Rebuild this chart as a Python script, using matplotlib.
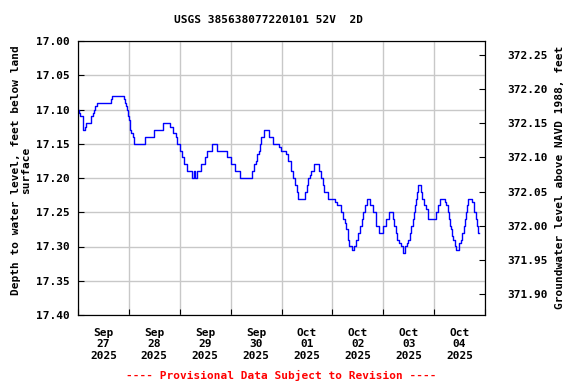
import numpy as np
import pandas as pd
from matplotlib import pyplot as plt
import matplotlib.dates as mdates

# hours since 2025-09-27 00:00 and depth below land surface (ft)
hours = [0.0, 0.6, 1.1, 2.2, 2.5, 3.4, 3.8, 6.0, 6.9, 7.4, 8.0, 8.8, 15.4, 15.9,
         21.5, 22.0, 22.5, 22.9, 23.5, 23.9, 24.3, 25.1, 26.0, 26.5, 31.7, 35.8,
         39.9, 43.6, 44.6, 46.0, 46.5, 48.0, 49.1, 50.2, 51.4, 54.0, 54.5, 55.4,
         56.3, 57.9, 59.8, 60.7, 63.2, 65.7, 70.3, 72.3, 73.9, 76.6, 82.0, 82.8,
         83.8, 84.4, 85.3, 85.8, 86.5, 87.7, 89.9, 92.1, 94.7, 95.9, 98.2, 99.0,
         100.6, 101.3, 102.5, 103.2, 103.7, 107.3, 108.1, 108.7, 109.5, 110.0,
         111.1, 113.9, 114.7, 115.4, 116.2, 117.8, 121.3, 122.0, 124.1, 125.2,
         126.0, 126.5, 127.2, 127.7, 129.1, 130.4, 131.2, 132.2, 133.2, 134.0,
         134.6, 135.4, 136.1, 137.9, 139.0, 140.6, 142.1, 144.1, 145.3, 146.8,
         148.4, 149.2, 150.0, 150.7, 151.5, 152.6, 153.1, 154.2, 155.0, 155.8,
         156.7, 157.3, 157.8, 158.3, 158.9, 159.4, 159.9, 160.6, 161.7, 162.5,
         163.3, 164.1, 164.9, 165.3, 168.8, 169.6, 170.7, 173.2, 173.8, 174.6,
         175.1, 175.5, 176.1, 176.6, 177.1, 177.7, 178.2, 179.8, 180.6, 181.3,
         182.1, 182.6, 183.2, 183.7, 184.1, 186.0, 186.8, 187.6, 188.1, 188.7,
         189.2]
depth = [17.10, 17.105, 17.11, 17.12, 17.13, 17.125, 17.12, 17.11, 17.105, 17.10,
         17.095, 17.09, 17.085, 17.08, 17.085, 17.09, 17.095, 17.10, 17.11, 17.115,
         17.13, 17.135, 17.14, 17.15, 17.14, 17.13, 17.12, 17.125, 17.135, 17.14,
         17.15, 17.16, 17.17, 17.18, 17.19, 17.20, 17.19, 17.20, 17.19, 17.18,
         17.17, 17.16, 17.15, 17.16, 17.17, 17.18, 17.19, 17.20, 17.19, 17.18,
         17.175, 17.165, 17.16, 17.15, 17.14, 17.13, 17.14, 17.15, 17.155, 17.16,
         17.165, 17.175, 17.19, 17.20, 17.21, 17.22, 17.23, 17.22, 17.21, 17.20,
         17.195, 17.19, 17.18, 17.19, 17.20, 17.21, 17.22, 17.23, 17.235, 17.24,
         17.25, 17.26, 17.265, 17.275, 17.29, 17.30, 17.305, 17.30, 17.29, 17.28,
         17.27, 17.26, 17.25, 17.24, 17.23, 17.24, 17.25, 17.27, 17.28, 17.27,
         17.26, 17.25, 17.26, 17.27, 17.28, 17.29, 17.295, 17.30, 17.31, 17.30,
         17.295, 17.29, 17.28, 17.27, 17.26, 17.25, 17.24, 17.23, 17.22, 17.21,
         17.22, 17.23, 17.24, 17.245, 17.25, 17.26, 17.25, 17.24, 17.23, 17.235,
         17.24, 17.25, 17.26, 17.27, 17.275, 17.285, 17.29, 17.30, 17.305, 17.295,
         17.29, 17.28, 17.27, 17.26, 17.25, 17.24, 17.23, 17.235, 17.25, 17.26,
         17.27, 17.28, 17.28]

datum = 389.27  # land surface elevation, NAVD 1988
start = pd.Timestamp("2025-09-27")
times = start + pd.to_timedelta(hours, unit="h")

plt.rcParams['font.family'] = 'DejaVu Sans Mono'
plt.rcParams['font.weight'] = 'bold'
plt.rcParams['font.size'] = 8

fig = plt.figure(figsize=(5.76, 3.84), dpi=100)
ax = fig.add_axes([78/576, 1-315/384, (485-78)/576, (315-41)/384])

ax.step(times, depth, where='post', color='#0000ff', linewidth=1.0)

ax.set_xlim(start, start + pd.Timedelta(days=8))
ax.set_ylim(17.40, 17.00)
ax.set_yticks(np.arange(17.00, 17.401, 0.05))
ax.yaxis.set_major_formatter(plt.FormatStrFormatter('%.2f'))

ax.xaxis.set_major_locator(mdates.DayLocator())
ax.xaxis.set_major_formatter(plt.NullFormatter())
ax.xaxis.set_minor_locator(mdates.HourLocator(byhour=12))
ax.xaxis.set_minor_formatter(mdates.DateFormatter('%b\n%d\n%Y'))
ax.tick_params(axis='x', which='minor', length=0, pad=9)
ax.tick_params(axis='x', which='major', direction='in', length=4, pad=9)
ax.tick_params(axis='y', direction='in', length=4, pad=6)
ax.grid(True, which='major', color='#c8c8c8', linewidth=1.0)
ax.set_axisbelow(True)

ax2 = ax.twinx()
ax2.set_ylim(datum - 17.40, datum - 17.00)
ax2.set_yticks(np.arange(371.90, 372.251, 0.05))
ax2.yaxis.set_major_formatter(plt.FormatStrFormatter('%.2f'))
ax2.tick_params(axis='y', direction='in', length=4, pad=16)

fig.text(268/576, 1-20/384, 'USGS 385638077220101 52V  2D', ha='center', va='center')
fig.text(21/576, 1-170/384, 'Depth to water level, feet below land\nsurface',
         rotation=90, ha='center', va='center', multialignment='center', linespacing=1.1)
fig.text(560/576, 1-177/384, 'Groundwater level above NAVD 1988, feet',
         rotation=90, ha='center', va='center')
fig.text(281/576, 1-375/384, '---- Provisional Data Subject to Revision ----',
         color='red', ha='center', va='center')

fig.savefig('out.png', dpi=100)
